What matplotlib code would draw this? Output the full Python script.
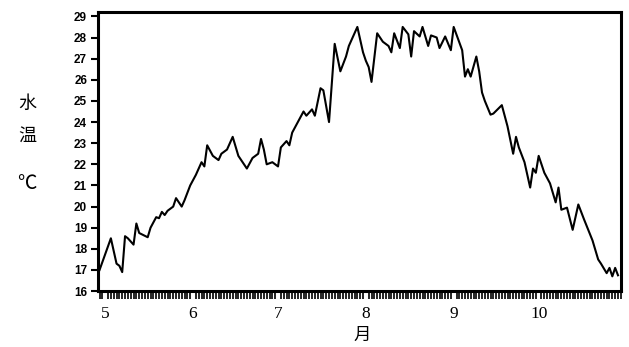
import numpy as np
import matplotlib
matplotlib.use('Agg')
import matplotlib.pyplot as plt
from matplotlib.ticker import MultipleLocator, FixedLocator

# day index counted from 1 May, daily water temperature readings
days = [0, 4, 6, 7, 8, 9, 10, 12, 13, 14, 17, 18, 20, 21, 22, 23, 24, 26, 27, 29,
        30, 32, 34, 36, 37, 38, 40, 42, 43, 45, 47, 49, 52, 54, 56, 57, 58, 59, 61, 63,
        64, 66, 67, 68, 70, 72, 73, 75, 76, 78, 79, 81, 83, 85, 87, 88, 91, 93, 94, 95,
        96, 98, 100, 102, 103, 104, 106, 107, 109, 110, 111, 113, 114, 116, 117, 119, 120, 122, 124, 125,
        128, 129, 130, 131, 133, 134, 135, 136, 138, 139, 142, 144, 146, 147, 148, 150, 152, 153, 154, 155,
        157, 159, 161, 162, 163, 165, 167, 169, 171, 174, 176, 177, 179, 180, 181, 182, 183]
temps = [17.0, 18.5, 17.3, 17.2, 16.9, 18.6, 18.5, 18.2, 19.2, 18.75, 18.55, 19.0, 19.5, 19.45, 19.75, 19.6, 19.8, 20.0, 20.4, 20.0,
         20.3, 21.0, 21.5, 22.1, 21.9, 22.9, 22.4, 22.2, 22.5, 22.7, 23.3, 22.4, 21.8, 22.3, 22.5, 23.2, 22.7, 22.0, 22.1, 21.9,
         22.8, 23.1, 22.9, 23.5, 24.0, 24.5, 24.3, 24.6, 24.3, 25.6, 25.5, 24.0, 27.7, 26.4, 27.1, 27.6, 28.5, 27.3, 26.9, 26.6,
         25.9, 28.2, 27.8, 27.6, 27.3, 28.2, 27.5, 28.5, 28.15, 27.1, 28.3, 28.05, 28.5, 27.6, 28.1, 28.0, 27.5, 28.05, 27.4, 28.5,
         27.4, 26.15, 26.5, 26.15, 27.1, 26.4, 25.4, 25.0, 24.35, 24.4, 24.8, 23.8, 22.5, 23.3, 22.8, 22.1, 20.9, 21.8, 21.6, 22.4,
         21.6, 21.1, 20.2, 20.9, 19.85, 19.95, 18.9, 20.1, 19.4, 18.4, 17.5, 17.3, 16.85, 17.1, 16.7, 17.1, 16.75]

month_starts = [0, 31, 61, 92, 123, 153]
month_labels = ['5', '6', '7', '8', '9', '10']
yticks = list(range(16, 30))

fig = plt.figure(figsize=(6.29, 3.47), dpi=100)
ax = fig.add_axes([0.156, 0.161, 0.831, 0.804])

ax.plot(days, temps, color='black', lw=1.5)

ax.set_xlim(-0.5, 184)
ax.set_ylim(16, 29.2)

for s in ax.spines.values():
    s.set_linewidth(2.2)

ax.set_yticks(yticks)
ax.set_yticklabels([str(v) for v in yticks], family='Liberation Sans',
                   fontsize=8.5, fontweight='bold')
ax.tick_params(axis='y', direction='out', length=5, width=1.5, pad=3)

# one tick per day along the bottom, month labels placed near the month start
ax.xaxis.set_minor_locator(MultipleLocator(1))
ax.xaxis.set_major_locator(FixedLocator([m + 2 for m in month_starts]))
ax.set_xticklabels(month_labels, family='Liberation Serif', fontsize=12.5)
ax.tick_params(axis='x', which='major', length=0, pad=11)
ax.tick_params(axis='x', which='minor', direction='out', length=6, width=1.2)

cjk = ['Noto Sans CJK SC', 'DejaVu Sans']
fig.text(0.043, 0.70, '水', family=cjk, fontsize=13, ha='center', va='center')
fig.text(0.043, 0.61, '温', family=cjk, fontsize=13, ha='center', va='center')
fig.text(0.043, 0.47, '℃', family=cjk, fontsize=14, ha='center', va='center')
fig.text(0.576, 0.035, '月', family=cjk, fontsize=12.5, ha='center', va='center')

fig.savefig('out.png', dpi=100)
